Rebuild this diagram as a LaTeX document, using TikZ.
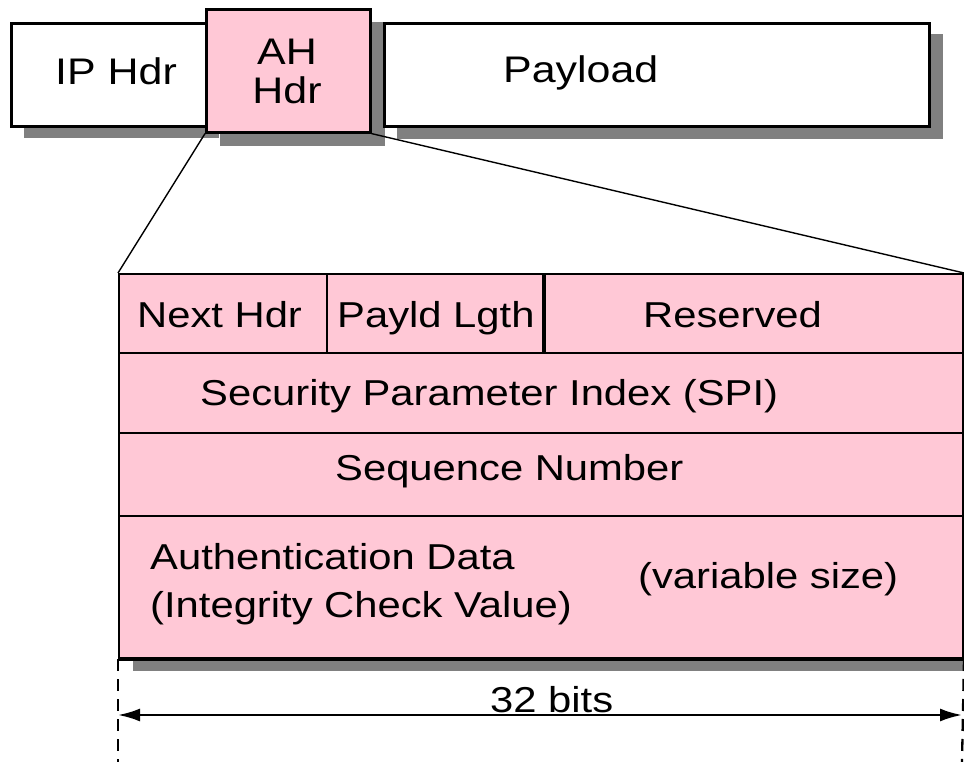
\documentclass[tikz,border=0pt]{standalone}
\usepackage{fontspec}
\setmainfont[FakeStretch=1.16]{Liberation Sans}
\usetikzlibrary{arrows.meta}
\definecolor{ahpink}{RGB}{255,200,214}
\definecolor{shade}{RGB}{128,128,128}
\begin{document}
\begin{tikzpicture}[x=1pt,y=-1pt,
  font=\fontsize{36}{44}\selectfont,
  pkt/.style={draw=black, line width=2.6pt, rectangle, inner sep=0pt, anchor=north west},
  cell/.style={draw=black, line width=2pt, fill=ahpink, rectangle, inner sep=0pt, anchor=north west},
  lbl/.style={anchor=base west, inner sep=0pt},
  bigl/.style={lbl, font=\fontsize{37}{44}\selectfont},
  shadowbox/.style={fill=shade, draw=none},
  zoomline/.style={line width=1.4pt},
  guide/.style={line width=2.3pt, dash pattern=on 12pt off 8pt},
  dim/.style={line width=2.4pt, {Latex[length=22pt,width=13pt]}-{Latex[length=22pt,width=13pt]}}]
\useasboundingbox (0,0) rectangle (964,762);

% packet shadows
\fill[shadowbox] (24,34) rectangle (219,138);
\fill[shadowbox] (397,34) rectangle (943,139);
\fill[shadowbox] (220,22) rectangle (385,146);

% packet boxes
\node[pkt, fill=white, minimum width=195pt, minimum height=103pt] (ip) at (10,22) {};
\node[bigl] at (55,85) {IP Hdr};
\node[pkt, fill=white, minimum width=545pt, minimum height=103pt] (pay) at (383,22) {};
\node[bigl] at (503,83) {Payload};
\node[pkt, fill=ahpink, minimum width=164pt, minimum height=123pt] (ah) at (205,8) {};
\node[bigl, anchor=base] at (287,65) {AH};
\node[bigl, anchor=base] at (287,104) {Hdr};

% AH header layout
\fill[shadowbox] (133,657) rectangle (964,671);
\node[cell, minimum width=208pt, minimum height=79pt] (nh) at (118,273) {};
\node[cell, minimum width=216pt, minimum height=79pt] (pl) at (326,273) {};
\node[cell, minimum width=420pt, minimum height=79pt] (rs) at (542,273) {};
\node[cell, minimum width=844pt, minimum height=80pt] (spi) at (118,352) {};
\node[cell, minimum width=844pt, minimum height=83pt] (seq) at (118,432) {};
\node[cell, minimum width=844pt, minimum height=142pt] (auth) at (118,515) {};
\draw[line width=3.5pt] (pl.north east) -- (pl.south east);
\draw[line width=3pt] (auth.south west) -- (auth.south east);

\node[lbl] at (137,327) {Next Hdr};
\node[lbl] at (337,327) {Payld Lgth};
\node[lbl] at (643,327) {Reserved};
\node[lbl] at (200,405) {Security Parameter Index (SPI)};
\node[lbl] at (335,480) {Sequence Number};
\node[lbl] at (150,569) {Authentication Data};
\node[lbl] at (150,617) {(Integrity Check Value)};
\node[lbl] at (638,588) {(variable size)};

% zoom lines from the AH header
\draw[zoomline] (ah.south west) -- (nh.north west);
\draw[zoomline] (ah.south east) -- (rs.north east);

% width marker
\coordinate (gl) at (118,762);
\coordinate (gr) at (962,762);
\coordinate (al) at (118,715);
\coordinate (ar) at (962,715);
\draw[guide] (auth.south west) -- (gl);
\draw[guide] (auth.south east) -- (gr);
\draw[dim] (al) -- (ar);
\node[lbl] at (490,712) {32 bits};
\end{tikzpicture}
\end{document}
